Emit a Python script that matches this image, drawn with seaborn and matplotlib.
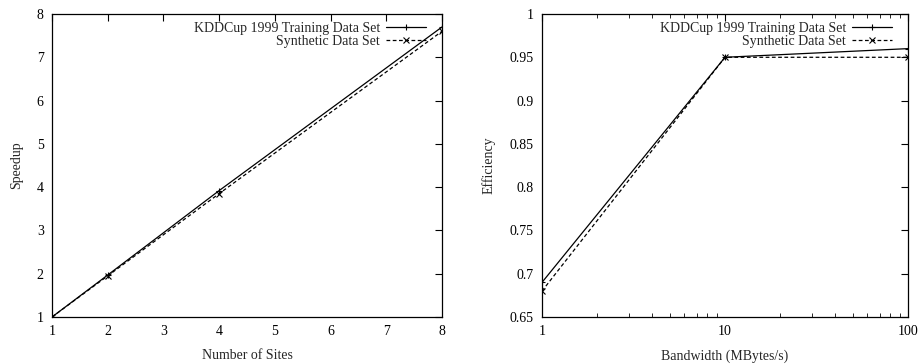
import matplotlib
matplotlib.use("Agg")
import matplotlib.pyplot as plt
import seaborn as sns
import pandas as pd
from matplotlib.ticker import LogLocator, NullFormatter, FixedLocator

sites = [1, 2, 4, 8]
speedup_kdd = [1.0, 1.97, 3.92, 7.70]
speedup_syn = [1.0, 1.95, 3.85, 7.60]

bandwidth = [1, 10, 100]
eff_kdd = [0.69, 0.95, 0.96]
eff_syn = [0.68, 0.95, 0.95]

label_kdd = "KDDCup 1999 Training Data Set"
label_syn = "Synthetic Data Set"

sns.set_theme(style="white")
plt.rcParams['font.family'] = ['Liberation Serif', 'DejaVu Serif']

fig = plt.figure(figsize=(9.2, 3.64), dpi=100)
ax1 = fig.add_axes([52/920, 1-317/364, 390/920, 303/364])
ax2 = fig.add_axes([542/920, 1-317/364, 366/920, 303/364])

df1 = pd.DataFrame({"x": sites * 2,
                    "y": speedup_kdd + speedup_syn,
                    "s": [label_kdd]*len(sites) + [label_syn]*len(sites)})
df2 = pd.DataFrame({"x": bandwidth * 2,
                    "y": eff_kdd + eff_syn,
                    "s": [label_kdd]*len(bandwidth) + [label_syn]*len(bandwidth)})

for ax, df in ((ax1, df1), (ax2, df2)):
    sns.lineplot(data=df, x="x", y="y", hue="s", style="s",
                 palette=["black", "black"],
                 dashes=[(None, None), (3, 2)], markers=["+", "x"],
                 markersize=4.5, linewidth=0.9,
                 ax=ax, legend=False)
    for ln in ax.lines:
        ln.set_markeredgecolor("black")
        ln.set_markerfacecolor("black")
        ln.set_markeredgewidth(0.8)

fs = 10
ax1.set_xlim(1, 8)
ax1.set_ylim(1, 8)
ax1.set_xticks(range(1, 9))
ax1.set_yticks(range(1, 9))
ax1.set_xlabel("Number of Sites", fontsize=fs)
ax1.set_ylabel("Speedup", fontsize=fs)

ax2.set_xscale("log")
ax2.set_xlim(1, 100)
ax2.set_ylim(0.65, 1.0)
ax2.xaxis.set_major_locator(FixedLocator([1, 10, 100]))
ax2.set_xticklabels(["1", "10", "100"])
ax2.xaxis.set_minor_locator(LogLocator(base=10, subs=range(2, 10)))
ax2.xaxis.set_minor_formatter(NullFormatter())
yt = [0.65, 0.7, 0.75, 0.8, 0.85, 0.9, 0.95, 1.0]
ax2.set_yticks(yt)
ax2.set_yticklabels(["0.65", "0.7", "0.75", "0.8", "0.85", "0.9", "0.95", "1"])
ax2.set_xlabel("Bandwidth (MBytes/s)", fontsize=fs)
ax2.set_ylabel("Efficiency", fontsize=fs)

for ax, w in ((ax1, 390), (ax2, 366)):
    for sp in ax.spines.values():
        sp.set_visible(True)
        sp.set_color("black")
        sp.set_linewidth(0.9)
    ax.tick_params(which="major", direction="in", length=5, width=0.8,
                   top=True, right=True, labelsize=fs, pad=6, colors="black")
    ax.tick_params(which="minor", direction="in", length=3, width=0.7,
                   top=True, right=True, bottom=True)
    ax.xaxis.labelpad = 8
    ax.yaxis.labelpad = 10
    ax.grid(False)
    handles = ax.lines[:2]
    leg = ax.legend(handles, [label_kdd, label_syn],
                    loc="upper right", bbox_to_anchor=(1 - 12/w, 1 - 4/303),
                    frameon=False, markerfirst=False,
                    fontsize=fs, handlelength=2.9, handletextpad=0.4,
                    labelspacing=0.0, borderaxespad=0.0, borderpad=0.3)
    leg._legend_box.align = "right"

fig.savefig("out.png", dpi=100, facecolor="white")
